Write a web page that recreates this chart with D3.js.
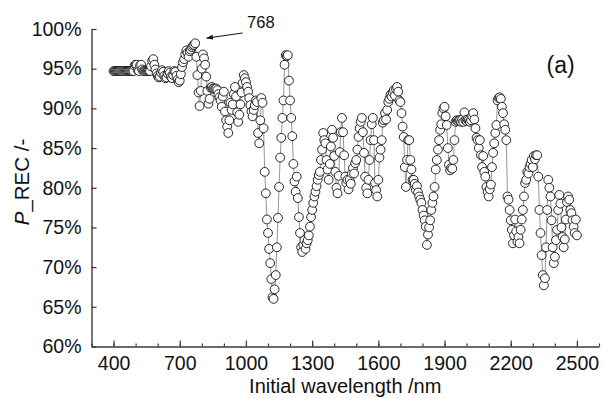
<!DOCTYPE html>
<html><head><meta charset="utf-8">
<script src="https://cdn.jsdelivr.net/npm/d3@7"></script>
<style>
body{margin:0;background:#fff;}
svg{display:block;font-family:"Liberation Sans",Arial,sans-serif;}
</style></head><body>
<svg id="c" width="604" height="399"></svg>
<script>
// Initial wavelength start and step (nm)
const wlStart = 400, wlStep = 5;
// P_REC values (%), one per wavelength step from 400 to 2500 nm
const pRec = [
94.7,94.7,94.7,94.7,94.7,94.7,94.7,94.7,94.7,94.7,
94.7,94.7,94.7,94.7,94.7,94.7,94.7,94.7,94.7,95.4,
95.5,95.5,94.8,94.7,95.4,95.5,94.9,94.7,94.7,94.7,
94.7,94.7,94.7,94.7,95.3,96.0,96.2,95.5,94.9,94.4,
94.1,93.9,94.0,94.5,94.8,94.6,94.1,93.8,93.9,94.4,
94.7,94.5,94.0,93.8,94.2,94.7,94.6,94.1,93.6,93.3,
93.5,94.3,95.2,95.8,96.2,96.8,97.3,97.0,96.5,97.2,
97.4,97.7,97.9,98.0,98.2,96.5,94.2,92.0,90.3,92.2,
95.0,96.8,96.3,95.5,94.0,92.2,90.6,91.2,92.6,92.7,
92.5,92.5,92.4,92.5,92.3,91.8,91.4,91.0,90.2,91.5,
92.1,89.6,88.5,87.7,86.9,88.5,90.7,89.8,90.5,91.8,
92.7,91.5,89.5,88.3,89.2,90.5,92.0,93.2,94.2,93.8,
93.3,92.7,92.1,91.3,90.4,89.6,89.0,89.8,90.4,91.0,
90.8,86.9,85.6,88.5,91.3,90.7,87.5,82.0,79.3,76.0,
74.3,72.3,70.5,68.5,66.2,66.0,67.2,69.0,72.5,76.2,
80.1,83.8,86.3,88.8,91.0,95.5,96.7,96.6,96.7,93.5,
91.0,88.8,86.5,83.0,80.8,79.5,81.4,78.7,76.3,74.3,
72.5,71.9,72.8,73.4,72.3,73.0,73.4,74.0,75.1,76.3,
77.2,78.1,78.9,79.5,80.2,81.0,81.6,82.0,83.5,84.8,
86.9,86.0,85.6,83.5,82.3,81.0,83.0,85.2,87.3,86.3,
84.0,82.0,80.0,79.3,81.5,84.5,87.0,88.8,87.0,84.1,
81.4,80.6,81.0,79.8,81.0,80.5,81.8,82.5,81.8,83.1,
83.5,84.8,86.4,87.5,88.3,88.8,87.0,84.4,81.4,80.0,
79.3,81.0,83.5,86.0,88.0,88.8,86.0,80.6,79.7,78.9,
81.0,83.8,84.8,86.0,88.2,88.5,89.4,88.6,89.8,90.8,
91.2,91.7,91.5,92.0,92.3,91.6,92.4,92.7,92.1,91.0,
90.8,89.4,87.7,86.4,82.6,80.1,83.5,86.0,86.0,83.5,
82.3,81.0,81.0,80.5,79.7,80.2,79.4,78.9,78.5,78.1,
77.2,76.5,75.9,75.1,72.8,74.1,75.0,75.9,77.2,78.1,
78.9,80.1,82.3,83.5,84.8,86.0,87.3,88.0,89.4,90.0,
90.2,89.0,87.9,85.0,82.9,82.2,82.5,82.4,83.5,86.0,
88.3,88.5,88.4,88.5,88.5,88.3,88.6,88.3,89.5,88.5,
88.4,88.6,88.5,88.3,88.5,89.0,89.4,88.6,87.5,86.3,
86.0,85.0,86.0,84.1,82.6,84.0,82.0,81.4,80.1,79.5,
78.9,79.8,80.4,82.6,84.4,85.6,86.9,87.9,91.0,91.3,
91.4,91.2,90.2,89.4,88.0,87.3,86.0,78.9,78.5,77.2,
75.9,74.7,73.0,74.0,76.0,74.5,73.2,73.8,73.0,74.7,
76.0,77.2,78.9,80.6,81.0,82.0,81.8,82.6,83.0,83.5,
82.6,84.0,83.6,84.1,84.1,81.4,77.2,74.3,71.5,69.0,
67.7,68.6,72.5,77.2,81.0,80.0,78.9,75.9,72.5,70.5,
71.3,73.4,74.7,77.2,79.1,78.0,75.0,73.8,72.5,73.5,
76.0,78.2,78.9,78.5,77.2,76.8,75.9,75.1,74.3,76.0,
74.0
];
const xTicks = [400, 700, 1000, 1300, 1600, 1900, 2200, 2500];
const xMinorTicks = d3.range(300, 2601, 100);
const yTicks = [60, 65, 70, 75, 80, 85, 90, 95, 100];
const peakLabel = "768";
const panelLabel = "(a)";

const data = pRec.map((v, i) => ({w: wlStart + i * wlStep, v}));

const svg = d3.select("#c");
const x = d3.scaleLinear().domain([300, 2600]).range([91.5, 599]);
const y = d3.scaleLinear().domain([60, 100]).range([346.5, 29]);
const axisColor = "#3a3a3a";

// line
svg.append("path").datum(data)
  .attr("fill", "none").attr("stroke", "#8a8a8a").attr("stroke-width", 0.9)
  .attr("d", d3.line().x(d => x(d.w)).y(d => y(d.v)));

// points
svg.append("g").selectAll("circle").data(data).join("circle")
  .attr("cx", d => x(d.w)).attr("cy", d => y(d.v)).attr("r", 4.4)
  .attr("fill", "#fff").attr("stroke", "#111").attr("stroke-width", 0.9);

// x axis
const gx = svg.append("g").attr("transform", `translate(0,${y(60)})`);
gx.call(d3.axisBottom(x).tickValues(xMinorTicks).tickSize(-3).tickFormat(""));
gx.call(g => g.select(".domain").remove());
const gx2 = svg.append("g").attr("transform", `translate(0,${y(60)})`);
gx2.call(d3.axisBottom(x).tickValues(xTicks).tickSizeInner(-6).tickSizeOuter(0).tickPadding(9.5).tickFormat(d3.format("d")));
[gx, gx2].forEach(g => {
  g.selectAll("line").attr("stroke", axisColor).attr("stroke-width", 1.2);
  g.selectAll("path").attr("stroke", axisColor).attr("stroke-width", 1.4);
  g.selectAll("text").attr("fill", "#111").attr("font-size", 19.5).attr("font-family", "Liberation Sans, Arial, sans-serif");
});

// y axis
const gy = svg.append("g").attr("transform", `translate(${x(300)},0)`);
gy.call(d3.axisLeft(y).tickValues(yTicks).tickSizeInner(-5).tickSizeOuter(0).tickPadding(10).tickFormat(d => d + "%"));
gy.selectAll("line").attr("stroke", axisColor).attr("stroke-width", 1.2);
gy.selectAll("path").attr("stroke", axisColor).attr("stroke-width", 1.4);
gy.selectAll("text").attr("fill", "#111").attr("font-size", 19.5).attr("font-family", "Liberation Sans, Arial, sans-serif");

// axis titles
svg.append("text").attr("x", (x(300) + x(2600)) / 2).attr("y", 393)
  .attr("text-anchor", "middle").attr("font-size", 20).attr("fill", "#111")
  .text("Initial wavelength /nm");
const yt = svg.append("text").attr("transform", `translate(29,${182}) rotate(-90)`)
  .attr("text-anchor", "middle").attr("font-size", 20.5).attr("fill", "#111");
yt.append("tspan").attr("font-style", "italic").text("P");
yt.append("tspan").text("_REC /-");

// annotation arrow
const defs = svg.append("defs");
defs.append("marker").attr("id", "ah").attr("viewBox", "0 0 10 10")
  .attr("refX", 9).attr("refY", 5).attr("markerWidth", 7).attr("markerHeight", 7)
  .attr("orient", "auto").attr("markerUnits", "userSpaceOnUse")
  .append("path").attr("d", "M0,1.5 L10,5 L0,8.5 Z").attr("fill", "#111");
svg.append("line")
  .attr("x1", x(985)).attr("y1", y(99.5)).attr("x2", x(822)).attr("y2", y(98.85))
  .attr("stroke", "#111").attr("stroke-width", 1).attr("marker-end", "url(#ah)");
svg.append("text").attr("x", x(1005)).attr("y", y(100.1))
  .attr("font-size", 16.5).attr("fill", "#111").text(peakLabel);
svg.append("text").attr("x", x(2362)).attr("y", y(94.5))
  .attr("font-size", 23).attr("fill", "#111").text(panelLabel);
</script>
</body></html>
